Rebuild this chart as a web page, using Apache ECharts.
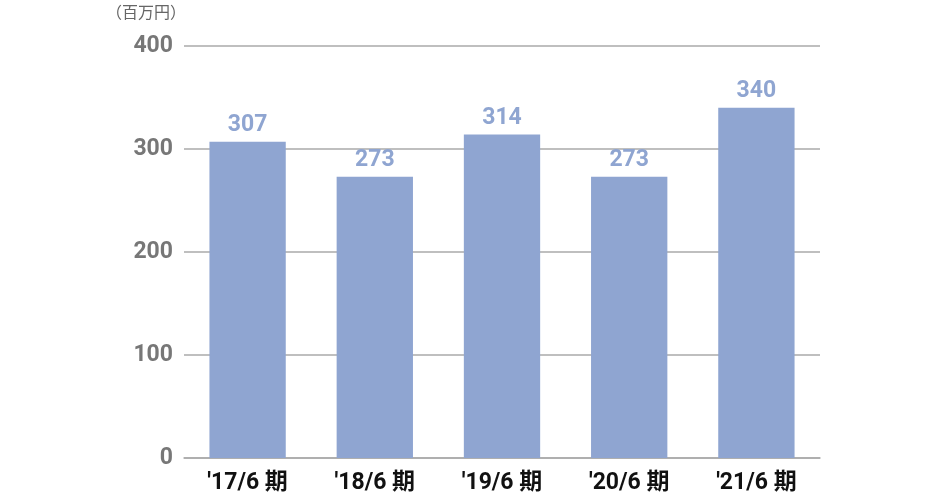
<!DOCTYPE html>
<html><head><meta charset="utf-8">
<script src="https://cdn.jsdelivr.net/npm/echarts@6/dist/echarts.min.js"></script>
<style>html,body{margin:0;padding:0;background:#fff}#c{width:930px;height:500px}</style>
</head><body><div id="c"></div>
<script>
const categories = ["'17/6 期", "'18/6 期", "'19/6 期", "'20/6 期", "'21/6 期"];
const values = [307, 273, 314, 273, 340];
const unitLabel = "（百万円）";
const chart = echarts.init(document.getElementById('c'));
chart.setOption({
  animation: false,
  grid: {left: 184, right: 110, top: 46, bottom: 42},
  graphic: [{type: 'text', left: 106, top: 4, style: {text: unitLabel, fill: '#666', fontSize: 16, fontFamily: 'Noto Sans CJK JP'}}],
  xAxis: {
    type: 'category', data: categories,
    axisLine: {lineStyle: {color: '#aaa', width: 1.5}}, axisTick: {show: false},
    axisLabel: {color: '#111', fontSize: 23, fontWeight: 'bold', margin: 14, fontFamily: 'Roboto, Noto Sans CJK JP'}
  },
  yAxis: {
    type: 'value', min: 0, max: 400, interval: 100,
    axisLine: {show: false}, axisTick: {show: false},
    splitLine: {lineStyle: {color: '#aaa', width: 1.5}},
    axisLabel: {color: '#777', fontSize: 23, fontWeight: 'bold', margin: 11, fontFamily: 'Roboto'}
  },
  series: [{
    type: 'bar', data: values, barWidth: '60%',
    itemStyle: {color: '#8fa5d1'},
    label: {show: true, position: 'top', color: '#8fa5d1', fontSize: 23, fontWeight: 'bold', fontFamily: 'Roboto', distance: 5}
  }]
});
</script></body></html>
